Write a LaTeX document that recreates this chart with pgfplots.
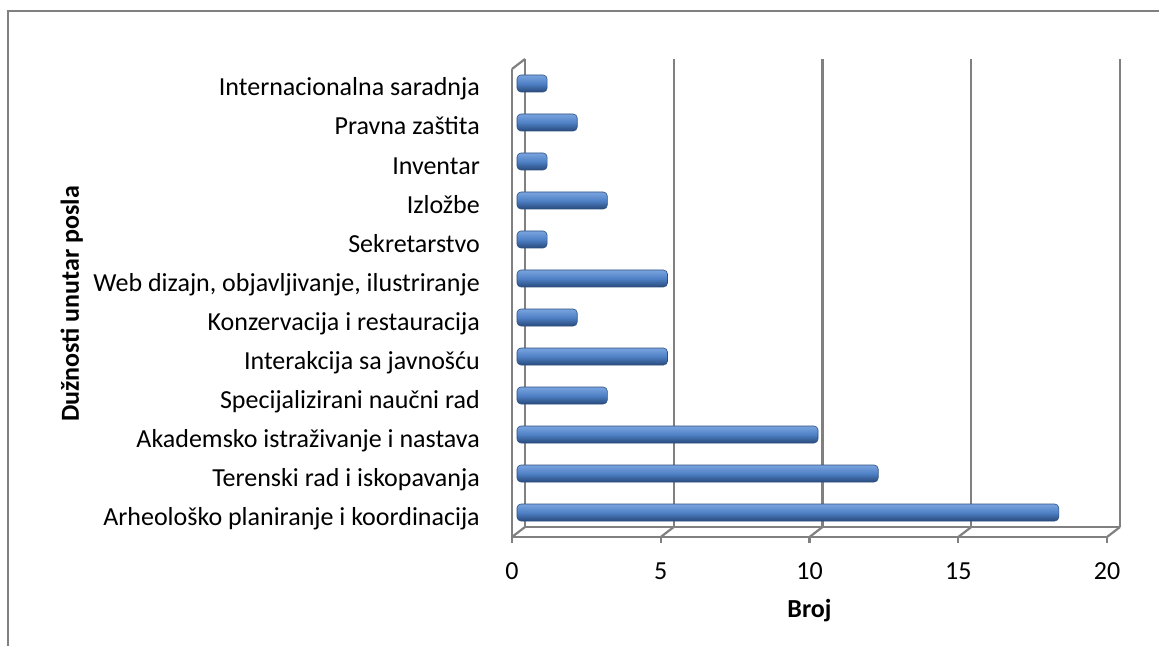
\documentclass[border=0pt]{standalone}
\usepackage{pgfplots}
\pgfplotsset{compat=1.18}
\usepackage{fontspec}
\setmainfont{Carlito}
\definecolor{gridgray}{RGB}{128,128,128}
\definecolor{bartop}{RGB}{122,164,222}
\definecolor{barmid}{RGB}{79,129,199}
\definecolor{barbot}{RGB}{40,74,122}
\definecolor{baredge}{RGB}{45,80,130}
\pgfplotsset{cyl/.style={xbar, bar shift=0pt, bar width=17pt, draw=baredge, line width=0.6pt,
  top color=bartop, bottom color=barbot, middle color=barmid, rounded corners=4pt}}
\begin{document}
\fontsize{26}{31}\selectfont
\begin{tikzpicture}[font=\fontsize{26}{31}\selectfont]
\useasboundingbox (-512pt,-109pt) rectangle (647pt,537pt);
\draw[gridgray, line width=2pt] (-504pt,-109pt) -- (-504pt,526pt) -- (647pt,526pt);
% back wall
\begin{axis}[at={(13pt,10pt)}, anchor=south west, width=595pt, height=468pt, scale only axis,
  xmin=0, xmax=20, ymin=-0.5, ymax=11.5,
  axis x line=bottom, axis y line=none,
  xtick={0,5,...,20}, xticklabels={}, ytick=\empty,
  xmajorgrids, major tick length=0pt,
  grid style={gridgray, line width=2.2pt},
  axis line style={gridgray, line width=2.2pt, -}]
\addplot[draw=none] coordinates {(0,0)};
\end{axis}
% floor and wall diagonals
\foreach \k in {0,1,2,3,4} \draw[gridgray, line width=2.2pt] ({148.75pt*\k},0pt) -- ++(13pt,10pt);
\draw[gridgray, line width=2.2pt] (0pt,468pt) -- (13pt,478pt);
% bars
\begin{axis}[at={(5pt,5pt)}, anchor=south west, width=602pt, height=468pt, scale only axis,
  xmin=0, xmax=20, ymin=-0.5, ymax=11.5, hide axis, clip=false]
\addplot[cyl] coordinates {(18,0)};
\addplot[cyl] coordinates {(12,1)};
\addplot[cyl] coordinates {(10,2)};
\addplot[cyl] coordinates {(3,3)};
\addplot[cyl] coordinates {(5,4)};
\addplot[cyl] coordinates {(2,5)};
\addplot[cyl] coordinates {(5,6)};
\addplot[cyl] coordinates {(1,7)};
\addplot[cyl] coordinates {(3,8)};
\addplot[cyl] coordinates {(1,9)};
\addplot[cyl] coordinates {(2,10)};
\addplot[cyl] coordinates {(1,11)};
\end{axis}
% front
\begin{axis}[at={(0pt,0pt)}, anchor=south west, width=595pt, height=468pt, scale only axis,
  xmin=0, xmax=20, ymin=-0.5, ymax=11.5,
  axis x line=bottom, axis y line=left,
  axis line style={gridgray, line width=2.2pt, -},
  xtick={0,5,...,20}, ytick={0,...,11},
  yticklabels={Arheološko planiranje i koordinacija, Terenski rad i iskopavanja, Akademsko istraživanje i nastava, Specijalizirani naučni rad, Interakcija sa javnošću, Konzervacija i restauracija, {Web dizajn, objavljivanje, ilustriranje}, Sekretarstvo, Izložbe, Inventar, Pravna zaštita, Internacionalna saradnja},
  ytick style={draw=none},
  xtick style={gridgray, line width=2.2pt},
  tick align=outside, major tick length=6pt,
  tick label style={font=\fontsize{26}{31}\selectfont},
  /pgf/number format/assume math mode=true,
  xticklabel style={anchor=base, inner sep=0pt, yshift=-36pt},
  yticklabel style={anchor=base east, inner sep=0pt, xshift=-26pt, yshift=-7.5pt}]
\addplot[draw=none] coordinates {(0,0)};
\end{axis}
\node[rotate=90, anchor=base, font=\fontsize{26}{31}\selectfont\bfseries] at (-433pt,233pt) {Dužnosti unutar posla};
\node[anchor=base, font=\fontsize{26}{31}\selectfont\bfseries] at (297.5pt,-80pt) {Broj};
\end{tikzpicture}
\end{document}
